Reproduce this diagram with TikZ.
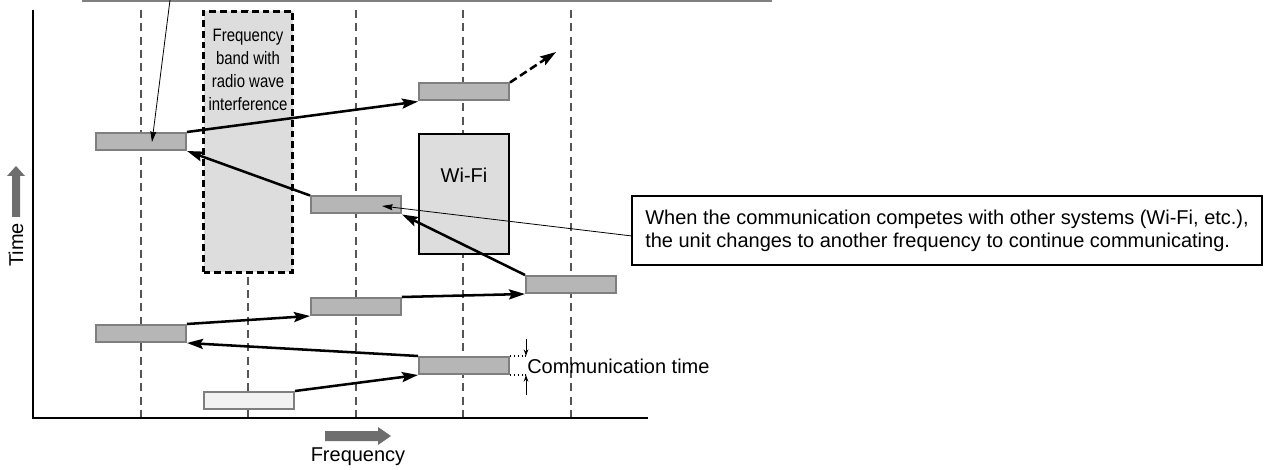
\documentclass[tikz,border=0pt]{standalone}
\usepackage{fontspec}
\setmainfont{Liberation Sans}
\newfontfamily\condfont[FakeStretch=0.83]{Liberation Sans}
\usetikzlibrary{arrows.meta}
\definecolor{boxfill}{HTML}{B5B6B5}
\definecolor{boxedge}{HTML}{7F7F7F}
\definecolor{bandfill}{HTML}{DCDDDC}
\definecolor{lightfill}{HTML}{F2F2F2}
\definecolor{axisarrow}{HTML}{6E6E6E}
\definecolor{gridline}{HTML}{555555}
\begin{document}
\begin{tikzpicture}[x=0.75pt,y=-0.75pt,
  font=\fontsize{15}{17.25}\selectfont,
  slot/.style={draw=boxedge, fill=boxfill, line width=1.5pt, minimum width=67.5pt, minimum height=12.75pt, inner sep=0pt},
  slotlight/.style={slot, fill=lightfill},
  hop/.style={line width=1.9pt, -{Stealth[length=12pt,width=7.5pt,inset=2pt]}},
  hopdash/.style={hop, dash pattern=on 6pt off 3pt},
  grid/.style={draw=gridline, line width=0.9pt, dash pattern=on 6pt off 4pt},
  pointer/.style={line width=0.6pt, -{Stealth[length=8pt,width=4.5pt,inset=1pt]}},
  tick/.style={line width=0.7pt, -{Stealth[length=5pt,width=3.5pt]}},
  plain/.style={inner sep=0pt}
]
\useasboundingbox (0,0) rectangle (1267,470);

% grid lines
\foreach \gx in {141,248,356,463,571}{
  \draw[grid] (\gx,10) -- (\gx,418);
}

% axes
\coordinate (ytop) at (33,10);
\coordinate (origin) at (33,418);
\coordinate (xend) at (648,418);
\draw[line width=1pt] (ytop) -- (origin) -- (xend);

% interference band
\node[draw, fill=bandfill, line width=1.9pt, dash pattern=on 5pt off 3pt,
      minimum width=66.75pt, minimum height=195.75pt, inner sep=0pt] (band) at (248,142) {};
\node[plain, align=center, font=\condfont\fontsize{13.5}{17.25}\selectfont] (bandlabel) at (248,70)
  {Frequency\\band with\\radio wave\\interference};

% Wi-Fi
\node[draw, fill=bandfill, line width=1.9pt, minimum width=67.5pt, minimum height=90pt, inner sep=0pt] (wifi) at (464,194) {};
\node[plain] (wifilabel) at (464,175) {Wi-Fi};

% communication slots
\node[slot] (b1) at (141,141.5) {};
\node[slot] (b2) at (464,92) {};
\node[slot] (b3) at (356,205) {};
\node[slot] (b4) at (571,284.5) {};
\node[slot] (b5) at (356,306.5) {};
\node[slot] (b6) at (141,333.5) {};
\node[slot] (b7) at (464,365.5) {};
\node[slotlight] (b8) at (249,400.5) {};

% hops
\draw[hop] (b8.north east) -- (b7.south west);
\draw[hop] (b7.north west) -- (b6.south east);
\draw[hop] (b6.north east) -- (b5.south west);
\draw[hop] (b5.north east) -- (b4.south west);
\draw[hop] (b4.north west) -- (b3.south east);
\draw[hop] (b3.north west) -- (b1.south east);
\draw[hop] (b1.north east) -- (b2.south west);
\coordinate (next) at (556,52);
\draw[hopdash] (b2.north east) -- (next);

% top callout pointer
\coordinate (topl) at (82,0.8);
\coordinate (topr) at (772,0.8);
\draw[draw=gray, line width=1.1pt] (topl) -- (topr);
\coordinate (topfoot) at (170,0);
\coordinate (toptip) at (152,142);
\draw[pointer] (topfoot) -- (toptip);

% note callout
\node[draw, line width=0.8pt, minimum width=472.5pt, minimum height=51.75pt, align=left, inner sep=0pt] (note) at (947,230.5)
  {When the communication competes with other systems (Wi-Fi, etc.),\\the unit changes to another frequency to continue communicating.};
\coordinate (notefoot) at (632,236);
\coordinate (notetip) at (382,206);
\draw[pointer] (notefoot) -- (notetip);

% communication time
\coordinate (ct1) at (526,356);
\coordinate (ct2) at (526,375);
\coordinate (ct1a) at (526,339);
\coordinate (ct2a) at (526,395);
\draw[line width=0.9pt, dotted] (b7.north east) -- (ct1);
\draw[line width=0.9pt, dotted] (b7.south east) -- (ct2);
\draw[tick] (ct1a) -- (ct1);
\draw[tick] (ct2a) -- (ct2);
\node[plain, anchor=west] (ctlabel) at (527,366) {Communication time};

% time axis arrow
\fill[axisarrow] (12,217) -- (12,176) -- (7,176) -- (16,166) -- (25,176) -- (20,176) -- (20,217) -- cycle;
\node[plain, rotate=90] (timelabel) at (16,245) {Time};

% frequency axis arrow
\fill[axisarrow] (325,431) -- (378,431) -- (378,427) -- (391,436) -- (378,445) -- (378,441) -- (325,441) -- cycle;
\node[plain] (freqlabel) at (358,457) {Frequency};
\end{tikzpicture}
\end{document}
